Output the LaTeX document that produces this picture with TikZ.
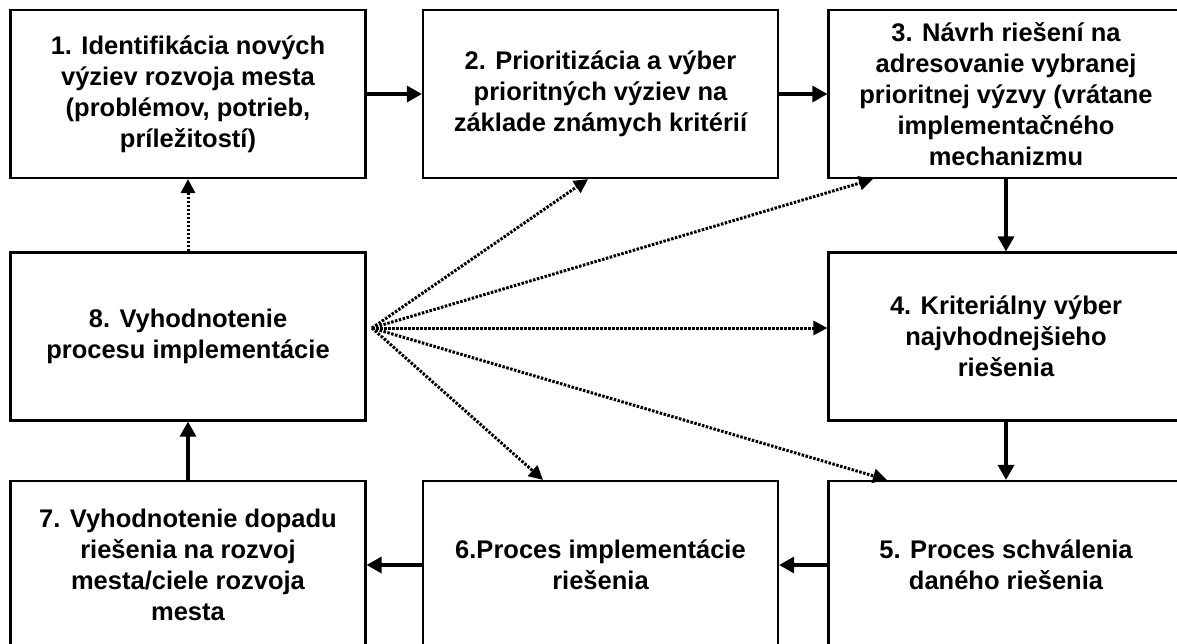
\documentclass[tikz,border=0pt]{standalone}
\usepackage{fontspec}
\setmainfont{Liberation Sans}
\usetikzlibrary{arrows.meta}
\begin{document}
\begin{tikzpicture}[x=1pt,y=-1pt,
  box/.style={draw, line width=2.2pt, minimum width=355pt, minimum height=168pt, inner sep=0pt, align=center, font=\bfseries\fontsize{25.5}{31}\selectfont},
  solidarrow/.style={line width=3.3pt, -{Triangle[length=15pt,width=16pt]}},
  dotarrow/.style={line width=3pt, dash pattern=on 2.5pt off 1.5pt, -{Triangle[length=14pt,width=14pt]}}]
\useasboundingbox (0,0) rectangle (1177,643);
\clip (0,0) rectangle (1177,643);
\fill[white] (0,0) rectangle (1177,643);
\node[box] (n1) at (188,94) {1. Identifikácia nových\\výziev rozvoja mesta\\(problémov, potrieb,\\príležitostí)};
\node[box] (n2) at (600.5,94) {2. Prioritizácia a výber\\prioritných výziev na\\základe známych kritérií};
\node[box] (n3) at (1006,94) {3. Návrh riešení na\\adresovanie vybranej\\prioritnej výzvy (vrátane\\implementačného\\mechanizmu};
\node[box] (n8) at (188,336.5) {8. Vyhodnotenie\\procesu implementácie};
\node[box] (n4) at (1006,336.5) {4. Kriteriálny výber\\najvhodnejšieho\\riešenia};
\node[box] (n7) at (188,565) {7. Vyhodnotenie dopadu\\riešenia na rozvoj\\mesta/ciele rozvoja\\mesta};
\node[box] (n6) at (600.5,565) {6.Proces implementácie\\riešenia};
\node[box] (n5) at (1006,565) {5. Proces schválenia\\daného riešenia};
\coordinate (fan) at (372,328);
\draw[solidarrow] (n1) -- (n2);
\draw[solidarrow] (n2) -- (n3);
\draw[solidarrow] (n3) -- (n4);
\draw[solidarrow] (n4) -- (n5);
\draw[solidarrow] (n5) -- (n6);
\draw[solidarrow] (n6) -- (n7);
\draw[solidarrow] (n7) -- (n8);
\draw[dotarrow] (n8) -- (n1);
\draw[dotarrow] (fan) -- (n2.south -| 588,0);
\draw[dotarrow] (fan) -- (n3.south -| 873,0);
\draw[dotarrow] (fan) -- (n4.west |- fan);
\draw[dotarrow] (fan) -- (n6.north -| 543,0);
\draw[dotarrow] (fan) -- (n5.north -| 887,0);
\end{tikzpicture}
\end{document}
